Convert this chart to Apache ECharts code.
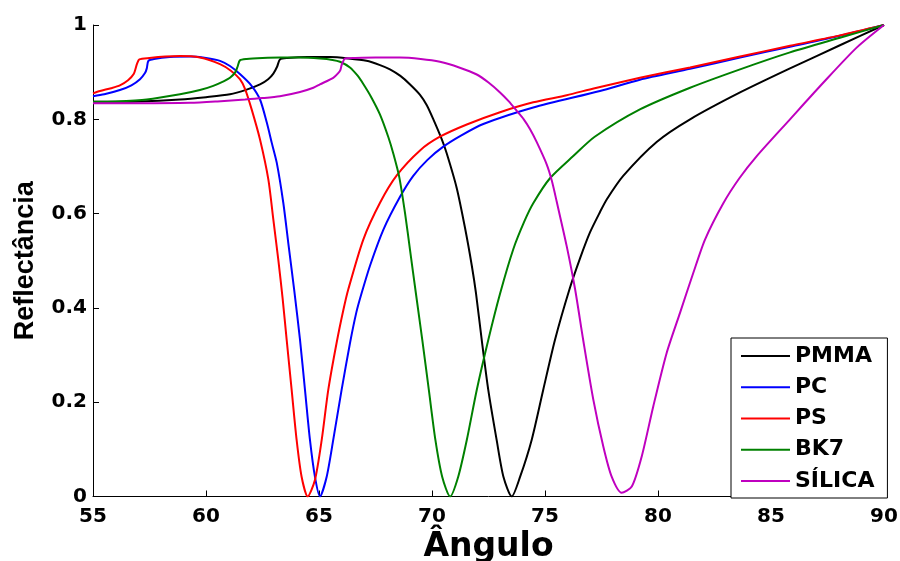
<!DOCTYPE html>
<html>
<head>
<meta charset="utf-8">
<script src="https://cdn.jsdelivr.net/npm/echarts@6/dist/echarts.min.js"></script>
<style>
html,body{margin:0;padding:0;background:#fff;}
#chart{width:900px;height:561px;}
</style>
</head>
<body>
<div id="chart"></div>
<script>
var seriesNames = ['PMMA', 'PC', 'PS', 'BK7', 'SÍLICA'];
var xTicks = [55, 60, 65, 70, 75, 80, 85, 90];
var yTicks = [0, 0.2, 0.4, 0.6, 0.8, 1];

var pmmaAngle = [55, 57, 58.85, 60, 61.06, 61.8, 62.39, 62.75, 62.98, 63.15, 63.27, 63.6, 64.5, 65.5, 66.3, 67.1, 67.7, 68.14, 68.6, 69.03, 69.47, 69.77, 70.06, 70.43, 70.65, 71.09, 71.46, 71.76, 71.95, 72.2, 72.49, 72.86, 73.16, 73.53, 73.9, 74.41, 74.92, 75.44, 76.08, 76.55, 76.99, 77.43, 77.73, 78.46, 79.94, 81.42, 83.63, 85.84, 88.05, 90];
var pmmaR =     [0.837, 0.838, 0.842, 0.847, 0.853, 0.863, 0.874, 0.885, 0.897, 0.912, 0.927, 0.930, 0.932, 0.932, 0.929, 0.924, 0.915, 0.906, 0.892, 0.874, 0.852, 0.830, 0.800, 0.758, 0.728, 0.655, 0.570, 0.490, 0.430, 0.332, 0.226, 0.12, 0.042, 0.0, 0.042, 0.12, 0.226, 0.332, 0.439, 0.505, 0.56, 0.603, 0.63, 0.68, 0.752, 0.80, 0.857, 0.908, 0.957, 1.0];

var pcAngle = [55, 55.5, 56.19, 56.7, 57.08, 57.3, 57.38, 57.45, 57.7, 58.4, 59.3, 60.0, 60.62, 61.06, 61.5, 62.0, 62.39, 62.69, 62.91, 63.13, 63.42, 63.64, 63.91, 64.16, 64.38, 64.6, 64.82, 65.04, 65.34, 65.63, 66.0, 66.37, 66.65, 66.89, 67.26, 67.85, 68.58, 69.17, 69.8, 70.5, 71.3, 72.27, 74.48, 77.43, 79.2, 81.42, 83.63, 85.84, 88.05, 90];
var pcR =     [0.849, 0.853, 0.862, 0.872, 0.885, 0.898, 0.908, 0.924, 0.928, 0.932, 0.933, 0.930, 0.924, 0.913, 0.896, 0.872, 0.842, 0.793, 0.75, 0.708, 0.623, 0.538, 0.435, 0.332, 0.226, 0.12, 0.042, 0.0, 0.042, 0.12, 0.226, 0.325, 0.39, 0.432, 0.49, 0.566, 0.635, 0.68, 0.714, 0.742, 0.766, 0.79, 0.825, 0.86, 0.884, 0.907, 0.931, 0.954, 0.977, 1.0];

var psAngle = [55, 55.31, 55.8, 56.19, 56.55, 56.8, 56.95, 57.05, 57.5, 58.2, 58.85, 59.73, 60.62, 61.1, 61.5, 61.73, 62.02, 62.39, 62.76, 62.98, 63.2, 63.39, 63.57, 63.79, 64.01, 64.23, 64.5, 64.82, 65.12, 65.41, 65.78, 66.08, 66.3, 66.96, 67.7, 68.44, 69.47, 70.35, 71.54, 73.01, 74.48, 75.96, 77.2, 79.2, 81.42, 83.63, 85.84, 88.05, 90];
var psR =     [0.855, 0.86, 0.866, 0.872, 0.883, 0.896, 0.918, 0.927, 0.930, 0.933, 0.934, 0.931, 0.917, 0.903, 0.885, 0.864, 0.821, 0.757, 0.672, 0.587, 0.502, 0.42, 0.332, 0.226, 0.12, 0.042, 0.0, 0.035, 0.12, 0.226, 0.326, 0.396, 0.44, 0.545, 0.623, 0.681, 0.734, 0.763, 0.789, 0.815, 0.836, 0.851, 0.866, 0.888, 0.91, 0.933, 0.956, 0.978, 1.0];

var bk7Angle = [55, 56, 57.38, 58.85, 59.73, 60.32, 60.8, 61.06, 61.3, 61.4, 61.5, 61.8, 62.5, 63.27, 64.16, 65.04, 65.6, 65.93, 66.37, 66.7, 66.96, 67.3, 67.7, 68.07, 68.29, 68.55, 68.81, 69.03, 69.29, 69.57, 69.86, 70.15, 70.45, 70.8, 71.16, 71.54, 71.98, 72.49, 73.01, 73.6, 74.1, 74.48, 75.22, 76.25, 77.2, 79.2, 81.42, 83.63, 85.84, 88.05, 90];
var bk7R =     [0.837, 0.838, 0.842, 0.853, 0.862, 0.871, 0.881, 0.888, 0.9, 0.912, 0.925, 0.928, 0.930, 0.931, 0.931, 0.929, 0.926, 0.922, 0.91, 0.893, 0.875, 0.848, 0.81, 0.762, 0.727, 0.678, 0.600, 0.522, 0.43, 0.332, 0.226, 0.12, 0.042, 0.0, 0.042, 0.12, 0.226, 0.332, 0.43, 0.525, 0.585, 0.622, 0.675, 0.722, 0.763, 0.821, 0.867, 0.906, 0.942, 0.973, 1.0];

var silicaAngle = [55, 57, 59.3, 60.5, 61.73, 62.5, 63.27, 64.16, 64.75, 65.04, 65.63, 65.85, 65.95, 66.0, 66.08, 66.15, 66.6, 67.5, 68.58, 69.5, 70.35, 71.2, 71.98, 72.5, 73.01, 73.4, 73.75, 74.06, 74.34, 74.63, 75.07, 75.3, 75.52, 75.96, 76.33, 76.69, 77.14, 77.58, 77.95, 78.39, 78.84, 79.28, 79.79, 80.38, 80.97, 81.56, 82.08, 82.89, 83.6, 84.37, 85.84, 87.32, 88.79, 90];
var silicaR =     [0.834, 0.834, 0.835, 0.838, 0.842, 0.845, 0.849, 0.858, 0.867, 0.874, 0.888, 0.898, 0.905, 0.915, 0.924, 0.929, 0.930, 0.931, 0.931, 0.928, 0.922, 0.91, 0.895, 0.878, 0.857, 0.838, 0.818, 0.8, 0.779, 0.752, 0.705, 0.67, 0.625, 0.531, 0.44, 0.332, 0.205, 0.106, 0.042, 0.008, 0.021, 0.085, 0.191, 0.304, 0.389, 0.474, 0.545, 0.622, 0.675, 0.722, 0.8, 0.878, 0.952, 1.0];

var colors = ['#000000', '#0000FF', '#FF0000', '#008000', '#BF00BF'];

function pairs(a, r) { return a.map(function (v, i) { return [v, r[i]]; }); }
var allData = [pairs(pmmaAngle, pmmaR), pairs(pcAngle, pcR), pairs(psAngle, psR), pairs(bk7Angle, bk7R), pairs(silicaAngle, silicaR)];

var tickFont = 'DejaVu Sans';
var chart = echarts.init(document.getElementById('chart'), null, {renderer: 'canvas'});
chart.setOption({
  animation: false,
  backgroundColor: '#ffffff',
  grid: {left: 93, right: 16, top: 25, bottom: 64.5, containLabel: false, outerBoundsMode: 'none'},
  xAxis: {
    type: 'value', min: xTicks[0], max: xTicks[xTicks.length - 1], interval: 5,
    axisLine: {show: true, onZero: false, lineStyle: {color: '#000', width: 1}},
    axisTick: {show: true, inside: true, length: 6, lineStyle: {color: '#000'}},
    splitLine: {show: false},
    axisLabel: {color: '#000', fontFamily: tickFont, fontWeight: 'bold', fontSize: 20, margin: 10},
    name: 'Ângulo', nameLocation: 'middle', nameGap: 32,
    nameTextStyle: {color: '#000', fontFamily: tickFont, fontWeight: 'bold', fontSize: 33}
  },
  yAxis: {
    type: 'value', min: yTicks[0], max: yTicks[yTicks.length - 1], interval: 0.2,
    axisLine: {show: true, onZero: false, lineStyle: {color: '#000', width: 1}},
    axisTick: {show: true, inside: true, length: 6, lineStyle: {color: '#000'}},
    splitLine: {show: false},
    axisLabel: {color: '#000', fontFamily: tickFont, fontWeight: 'bold', fontSize: 20, margin: 6},
    name: 'Reflectância', nameLocation: 'middle', nameGap: 54, nameRotate: 90,
    nameTextStyle: {color: '#000', fontFamily: 'Liberation Sans', fontWeight: 'bold', fontSize: 27}
  },
  legend: {
    orient: 'vertical', left: 731, top: 338,
    backgroundColor: '#fff', borderColor: '#000', borderWidth: 1, borderRadius: 0,
    padding: [7, 13, 6, 10], itemWidth: 49, itemHeight: 2, itemGap: 9.25,
    icon: 'rect',
    textStyle: {color: '#000', fontFamily: tickFont, fontWeight: 'bold', fontSize: 22, lineHeight: 22},
    data: seriesNames
  },
  series: seriesNames.map(function (n, i) {
    return {
      name: n, type: 'line', data: allData[i], symbol: 'none', showSymbol: false,
      smooth: 0.25,
      lineStyle: {color: colors[i], width: 2}, itemStyle: {color: colors[i]}
    };
  })
});
</script>
</body>
</html>
